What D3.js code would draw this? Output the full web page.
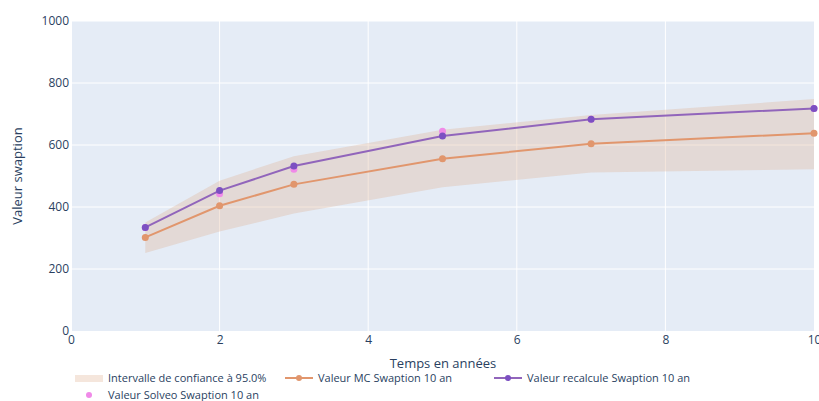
<!DOCTYPE html>
<html>
<head>
<meta charset="utf-8">
<script src="https://cdn.jsdelivr.net/npm/d3@7"></script>
<style>
  body { margin: 0; background: #fff; }
  text { font-family: "Open Sans", "DejaVu Sans", sans-serif; }
</style>
</head>
<body>
<div id="chart"></div>
<script>
// données
const years = [1, 2, 3, 5, 7, 10];
const mcValues = [302, 404, 473, 556, 604, 638];
const recalcValues = [334, 453, 532, 629, 683, 718];
const solveoValues = [334, 443, 522, 644, 683, 718];
const ciLower = [252, 321, 379, 464, 511, 522];
const ciUpper = [350, 485, 564, 649, 697, 748];
const xTicks = [0, 2, 4, 6, 8, 10];
const yTicks = [0, 200, 400, 600, 800, 1000];

const legendLabels = [
  "Intervalle de confiance à 95.0%",
  "Valeur MC Swaption 10 an",
  "Valeur recalcule Swaption 10 an",
  "Valeur Solveo Swaption 10 an",
];

const width = 819, height = 401;
const plot = { left: 71, right: 814, top: 21, bottom: 331 };

const bandColor = "rgba(222,172,140,0.3)";
const mcColor = "#e1966d";
const recalcColor = "#9165bb";
const recalcMarker = "#7c50c2";
const solveoColor = "#f08ae8";
const textColor = "#2a3f5f";

const svg = d3
  .select("#chart")
  .append("svg")
  .attr("width", width)
  .attr("height", height);

const x = d3.scaleLinear().domain([0, 10]).range([plot.left, plot.right]);
const y = d3.scaleLinear().domain([0, 1000]).range([plot.bottom, plot.top]);

// fond + grille
svg
  .append("rect")
  .attr("x", plot.left + 1)
  .attr("y", plot.top)
  .attr("width", plot.right - plot.left - 1)
  .attr("height", plot.bottom - plot.top)
  .attr("fill", "#e5ecf6");

const grid = svg.append("g");
grid
  .selectAll("line.gx")
  .data(xTicks.filter((t) => t > 0 && t < 10))
  .enter()
  .append("line")
  .attr("x1", (d) => x(d))
  .attr("x2", (d) => x(d))
  .attr("y1", plot.top)
  .attr("y2", plot.bottom)
  .attr("stroke", "#fff")
  .attr("stroke-width", 1);
grid
  .selectAll("line.gy")
  .data(yTicks.filter((t) => t > 0))
  .enter()
  .append("line")
  .attr("x1", plot.left + 1)
  .attr("x2", plot.right)
  .attr("y1", (d) => y(d))
  .attr("y2", (d) => y(d))
  .attr("stroke", "#fff")
  .attr("stroke-width", 1);

const g = svg.append("g");

// intervalle de confiance
const band = d3
  .area()
  .x((d, i) => x(years[i]))
  .y0((d, i) => y(ciLower[i]))
  .y1((d, i) => y(ciUpper[i]));
g.append("path").datum(years).attr("d", band).attr("fill", bandColor);

const line = (vals) =>
  d3
    .line()
    .x((d, i) => x(years[i]))
    .y((d, i) => y(vals[i]))(years);

// Solveo (points seuls)
g.selectAll("circle.solveo")
  .data(solveoValues)
  .enter()
  .append("circle")
  .attr("cx", (d, i) => x(years[i]))
  .attr("cy", (d) => y(d))
  .attr("r", 3.5)
  .attr("fill", solveoColor);

// MC
g.append("path")
  .attr("d", line(mcValues))
  .attr("fill", "none")
  .attr("stroke", mcColor)
  .attr("stroke-width", 2);
g.selectAll("circle.mc")
  .data(mcValues)
  .enter()
  .append("circle")
  .attr("cx", (d, i) => x(years[i]))
  .attr("cy", (d) => y(d))
  .attr("r", 3.5)
  .attr("fill", mcColor);

// recalcule
g.append("path")
  .attr("d", line(recalcValues))
  .attr("fill", "none")
  .attr("stroke", recalcColor)
  .attr("stroke-width", 2);
g.selectAll("circle.recalc")
  .data(recalcValues)
  .enter()
  .append("circle")
  .attr("cx", (d, i) => x(years[i]))
  .attr("cy", (d) => y(d))
  .attr("r", 3.5)
  .attr("fill", recalcMarker);

// axes
const xAxis = svg
  .append("g")
  .attr("transform", `translate(0,${plot.bottom + 13})`)
  .call(d3.axisBottom(x).tickValues(xTicks).tickFormat(d3.format("d")).tickSize(0).tickPadding(0));
xAxis.select(".domain").remove();
xAxis.selectAll("text").attr("fill", textColor).attr("font-size", 12).attr("dy", "0");

const yAxis = svg
  .append("g")
  .attr("transform", `translate(${plot.left - 2},0)`)
  .call(d3.axisLeft(y).tickValues(yTicks).tickFormat(d3.format("d")).tickSize(0).tickPadding(0));
yAxis.select(".domain").remove();
yAxis.selectAll("text").attr("fill", textColor).attr("font-size", 12);

// titres d'axes
svg
  .append("text")
  .attr("x", 443)
  .attr("y", 368)
  .attr("text-anchor", "middle")
  .attr("font-size", 13)
  .attr("fill", textColor)
  .text("Temps en années");

svg
  .append("text")
  .attr("transform", `translate(22,${(plot.top + plot.bottom) / 2}) rotate(-90)`)
  .attr("text-anchor", "middle")
  .attr("font-size", 13)
  .attr("fill", textColor)
  .text("Valeur swaption");

// légende
const legend = svg.append("g").attr("font-size", 11).attr("fill", textColor);
const items = [
  { x: 75, y: 378, type: "band" },
  { x: 285, y: 378, type: "line", color: mcColor, marker: mcColor },
  { x: 494, y: 378, type: "line", color: recalcColor, marker: recalcMarker },
  { x: 75, y: 395, type: "dot", marker: solveoColor },
];
items.forEach((it, i) => {
  const lg = legend.append("g").attr("transform", `translate(${it.x},${it.y})`);
  if (it.type === "band") {
    lg.append("rect").attr("x", 0).attr("y", -3).attr("width", 28).attr("height", 7).attr("fill", bandColor);
  } else if (it.type === "line") {
    lg.append("line").attr("x1", 0).attr("x2", 28).attr("y1", 0).attr("y2", 0)
      .attr("stroke", it.color).attr("stroke-width", 2);
    lg.append("circle").attr("cx", 14).attr("cy", 0).attr("r", 3).attr("fill", it.marker);
  } else {
    lg.append("circle").attr("cx", 14).attr("cy", 0).attr("r", 3).attr("fill", it.marker);
  }
  lg.append("text")
    .attr("x", 33)
    .attr("y", 0)
    .attr("dy", "0.35em")
    .attr("fill", textColor)
    .text(legendLabels[i]);
});
</script>
</body>
</html>
